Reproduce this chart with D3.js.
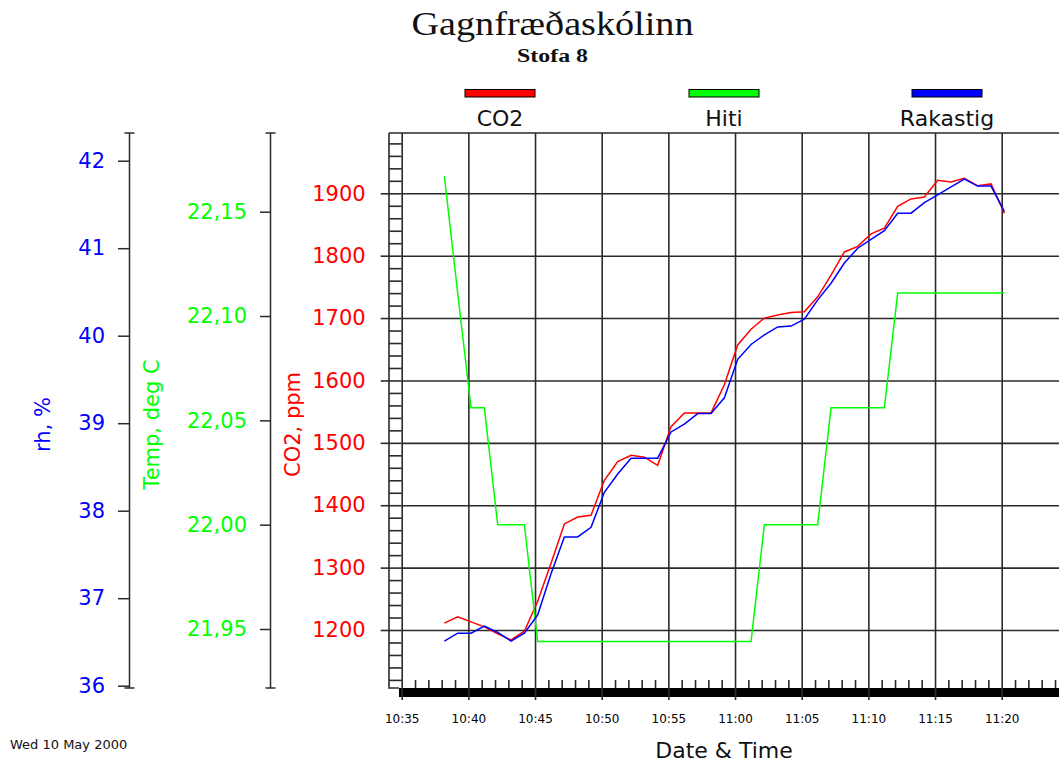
<!DOCTYPE html>
<html>
<head>
<meta charset="utf-8">
<script src="https://cdn.jsdelivr.net/npm/d3@7"></script>
<style>
  body { margin: 0; background: #fff; }
  svg { display: block; font-family: "DejaVu Sans", sans-serif; }
</style>
</head>
<body>
<div id="chart"></div>
<script>
// mælingar í Stofu 8, mið 10. maí 2000 - einn punktur á mínútu
const times = [
  "10:38:12", "10:39:12", "10:40:12", "10:41:12", "10:42:12", "10:43:12", "10:44:12", "10:45:12",
  "10:46:12", "10:47:12", "10:48:12", "10:49:12", "10:50:12", "10:51:12", "10:52:12", "10:53:12",
  "10:54:12", "10:55:12", "10:56:12", "10:57:12", "10:58:12", "10:59:12", "11:00:12", "11:01:12",
  "11:02:12", "11:03:12", "11:04:12", "11:05:12", "11:06:12", "11:07:12", "11:08:12", "11:09:12",
  "11:10:12", "11:11:12", "11:12:12", "11:13:12", "11:14:12", "11:15:12", "11:16:12", "11:17:12",
  "11:18:12", "11:19:12", "11:20:12"
]

// CO2, ppm
const co2 = [
  1211, 1221, 1213, 1205, 1194, 1184, 1198, 1246, 1307, 1370,
  1381, 1384, 1440, 1470, 1480, 1477, 1464, 1526, 1548, 1548,
  1548, 1593, 1657, 1682, 1700, 1705, 1709, 1710, 1734, 1769,
  1806, 1815, 1835, 1844, 1879, 1891, 1894, 1921, 1918, 1924,
  1912, 1915, 1868
]

// Hiti, deg C
const hiti = [
  22.167, 22.111, 22.056, 22.056, 22.000, 22.000, 22.000, 21.944, 21.944, 21.944,
  21.944, 21.944, 21.944, 21.944, 21.944, 21.944, 21.944, 21.944, 21.944, 21.944,
  21.944, 21.944, 21.944, 21.944, 22.000, 22.000, 22.000, 22.000, 22.000, 22.056,
  22.056, 22.056, 22.056, 22.056, 22.111, 22.111, 22.111, 22.111, 22.111, 22.111,
  22.111, 22.111, 22.111
]

// Rakastig, rh %
const rakastig = [
  36.51, 36.60, 36.60, 36.68, 36.61, 36.51, 36.60, 36.81, 37.28, 37.70,
  37.70, 37.81, 38.21, 38.42, 38.60, 38.60, 38.60, 38.90, 38.99, 39.11,
  39.11, 39.29, 39.73, 39.90, 40.01, 40.10, 40.11, 40.19, 40.41, 40.60,
  40.83, 41.00, 41.10, 41.20, 41.40, 41.40, 41.52, 41.61, 41.70, 41.79,
  41.71, 41.71, 41.42
]

const seriesNames = ["CO2", "Hiti", "Rakastig"]
const seriesColors = ["#ff0000", "#00ff00", "#0000ff"]

const co2Ticks = [1200, 1300, 1400, 1500, 1600, 1700, 1800, 1900]
const hitiTicks = [21.95, 22.00, 22.05, 22.10, 22.15]
const rhTicks = [36, 37, 38, 39, 40, 41, 42]
const timeTicks = ["10:35", "10:40", "10:45", "10:50", "10:55", "11:00", "11:05", "11:10", "11:15", "11:20"]

const W = 1059, H = 765
const plotLeft = 401.7, plotTop = 133, plotBottom = 688, plotRight = W
const axisColor = "#2b2b2b"

const svg = d3.select("#chart").append("svg")
  .attr("width", W)
  .attr("height", H)

const parseT = d3.timeParse("%H:%M:%S")
const parseHM = d3.timeParse("%H:%M")

// skalar
const x = d3.scaleTime()
  .domain([parseHM("10:35"), parseHM("11:20")])
  .range([plotLeft, 1001.7])
const yCO2 = d3.scaleLinear().domain([1200, 1900]).range([630, 193.3])
const yHiti = d3.scaleLinear().domain([21.95, 22.15]).range([629, 211.7])
const yRh = d3.scaleLinear().domain([36, 42]).range([685.7, 160.7])

const gridTimes = timeTicks.map(parseHM)
const minorTimes = d3.timeMinute.range(parseHM("10:36"), parseHM("11:25"))
  .filter(d => d.getMinutes() % 5 !== 0)
const co2Minor = d3.range(1120, 2000, 20).filter(v => v % 100 !== 0)

const styleLines = (g, w) => {
  g.select(".domain").remove()
  g.selectAll("line").attr("stroke", axisColor).attr("stroke-width", w)
}

// lárétt net
svg.append("g")
  .attr("transform", `translate(${plotLeft},0)`)
  .call(d3.axisLeft(yCO2).tickValues(co2Ticks).tickSize(-(plotRight - plotLeft)).tickFormat(""))
  .call(g => styleLines(g, 1.6))

// lóðrétt net
svg.append("g")
  .attr("transform", `translate(0,${plotBottom})`)
  .call(d3.axisBottom(x).tickValues(gridTimes).tickSize(-(plotBottom - plotTop)).tickFormat(""))
  .call(g => styleLines(g, 1.6))

// rammi
svg.append("path")
  .attr("d", `M389,${plotTop}H${plotRight}M389,${plotTop}V${plotBottom}H399`)
  .attr("fill", "none")
  .attr("stroke", axisColor)
  .attr("stroke-width", 1.6)

// línur
const series = [
  { name: "CO2", values: co2, y: yCO2 },
  { name: "Hiti", values: hiti, y: yHiti },
  { name: "Rakastig", values: rakastig, y: yRh }
]

series.forEach((s, i) => {
  const pts = times.map((t, j) => ({ t: parseT(t), v: s.values[j] }))
  const line = d3.line().x(d => x(d.t)).y(d => s.y(d.v))
  svg.append("path")
    .datum(pts)
    .attr("fill", "none")
    .attr("stroke", seriesColors[i])
    .attr("stroke-width", 1.5)
    .attr("d", line)
})

// x ás: smáhök, feit lína, merki
svg.append("g")
  .attr("transform", `translate(0,${plotBottom})`)
  .call(d3.axisBottom(x).tickValues(minorTimes).tickSize(-8).tickFormat(""))
  .call(g => styleLines(g, 1.6))

svg.append("rect")
  .attr("x", 399)
  .attr("y", plotBottom)
  .attr("width", W - 399)
  .attr("height", 9)
  .attr("fill", "#000")

const xAxis = svg.append("g")
  .attr("transform", `translate(0,${plotBottom})`)
  .call(d3.axisBottom(x).tickValues(gridTimes).tickSize(12).tickFormat(d3.timeFormat("%H:%M")))
  .call(g => styleLines(g, 1.6))
xAxis.selectAll("text")
  .attr("y", 35)
  .attr("dy", null)
  .attr("fill", "#000")
  .style("font-size", "12px")
  .style("font-family", "DejaVu Sans")

// CO2 ás
svg.append("g")
  .attr("transform", `translate(${plotLeft},0)`)
  .call(d3.axisLeft(yCO2).tickValues(co2Minor).tickSize(12.7).tickFormat(""))
  .call(g => styleLines(g, 1.6))

const co2Axis = svg.append("g")
  .attr("transform", `translate(${plotLeft},0)`)
  .call(d3.axisLeft(yCO2).tickValues(co2Ticks).tickSize(21).tickPadding(15).tickFormat(d3.format("d")))
  .call(g => styleLines(g, 1.6))
co2Axis.selectAll("text")
  .attr("fill", seriesColors[0])
  .style("font-size", "21px")
  .style("font-family", "DejaVu Sans")

// aukaásar til vinstri
const sideAxis = (xPos, scale, ticks, fmt, color, tickLen) => {
  const g = svg.append("g")
    .attr("transform", `translate(${xPos},0)`)
    .call(d3.axisLeft(scale).tickValues(ticks).tickSize(tickLen).tickPadding(13).tickFormat(fmt))
    .call(g => styleLines(g, 1.5))
  g.selectAll("text")
    .attr("fill", color)
    .style("font-size", "21px")
    .style("font-family", "DejaVu Sans")
  g.append("path")
    .attr("d", `M0.5,${plotTop}V${plotBottom}M-4.5,${plotTop}H5.5M-4.5,${plotBottom}H5.5`)
    .attr("stroke", axisColor)
    .attr("stroke-width", 1.5)
    .attr("fill", "none")
}

sideAxis(270, yHiti, hitiTicks, d => d3.format(".2f")(d).replace(".", ","), seriesColors[1], 10)
sideAxis(129, yRh, rhTicks, d3.format("d"), seriesColors[2], 11)

// ásaheiti
const axisTitles = [
  { text: "rh, %", x: 50, color: seriesColors[2] },
  { text: "Temp, deg C", x: 158.5, color: seriesColors[1] },
  { text: "CO2, ppm", x: 300, color: seriesColors[0] }
]
axisTitles.forEach(a => {
  svg.append("text")
    .attr("transform", `translate(${a.x},424.5) rotate(-90)`)
    .attr("text-anchor", "middle")
    .attr("fill", a.color)
    .style("font-size", "21px")
    .text(a.text)
})

// skýringar
const legendX = [500, 724, 947]
seriesNames.forEach((name, i) => {
  const g = svg.append("g").attr("transform", `translate(${legendX[i]},0)`)
  g.append("rect")
    .attr("x", -35)
    .attr("y", 89.5)
    .attr("width", 70)
    .attr("height", 7.5)
    .attr("fill", seriesColors[i])
    .attr("stroke", "#000")
    .attr("stroke-width", 1)
  g.append("text")
    .attr("y", 126)
    .attr("text-anchor", "middle")
    .attr("fill", "#111")
    .style("font-size", "22px")
    .text(name)
})

// titill
svg.append("text")
  .attr("x", 552.5)
  .attr("y", 35)
  .attr("text-anchor", "middle")
  .attr("textLength", 282)
  .attr("lengthAdjust", "spacingAndGlyphs")
  .style("font-family", "'Liberation Serif', 'Times New Roman', serif")
  .style("font-size", "33px")
  .attr("fill", "#111")
  .text("Gagnfræðaskólinn")

svg.append("text")
  .attr("x", 552.5)
  .attr("y", 61.5)
  .attr("text-anchor", "middle")
  .attr("textLength", 71)
  .attr("lengthAdjust", "spacingAndGlyphs")
  .style("font-family", "'Liberation Serif', 'Times New Roman', serif")
  .style("font-size", "18px")
  .style("font-weight", "bold")
  .attr("fill", "#111")
  .text("Stofa 8")

svg.append("text")
  .attr("x", 724)
  .attr("y", 758)
  .attr("text-anchor", "middle")
  .attr("fill", "#111")
  .style("font-size", "22px")
  .text("Date & Time")

svg.append("text")
  .attr("x", 10)
  .attr("y", 749)
  .attr("fill", "#111")
  .style("font-size", "13px")
  .text("Wed 10 May 2000")
</script>
</body>
</html>
